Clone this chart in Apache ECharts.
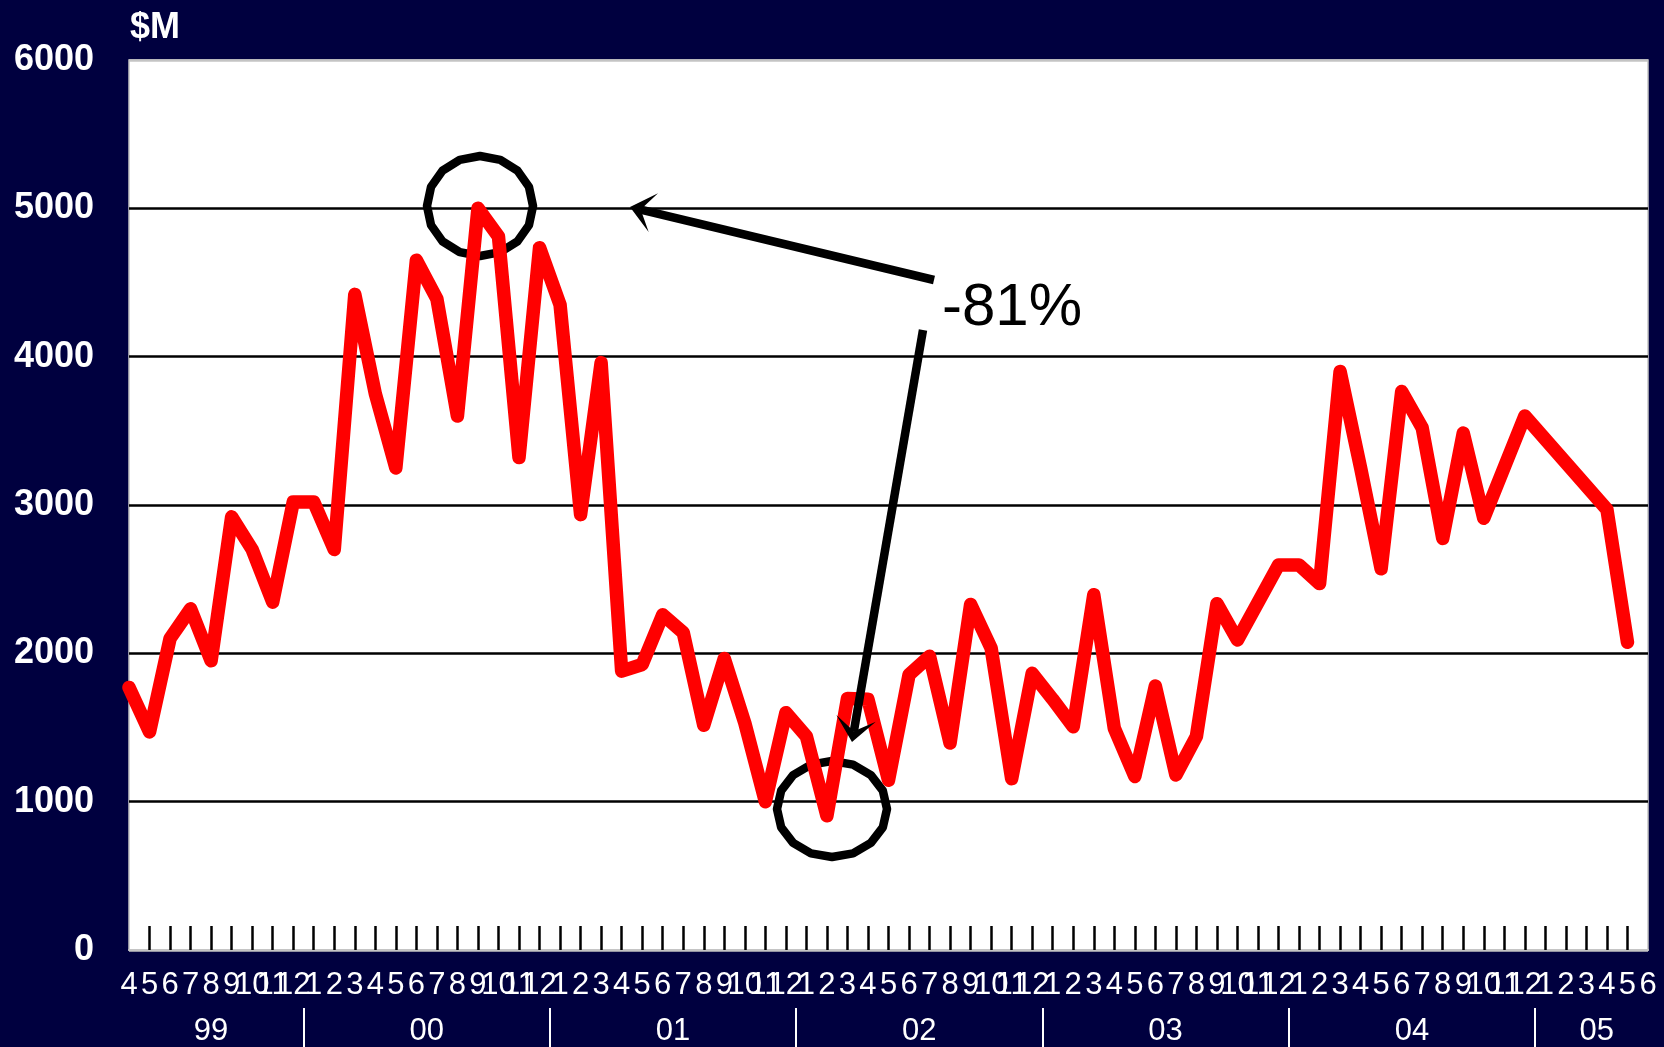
<!DOCTYPE html>
<html>
<head>
<meta charset="utf-8">
<title>$M</title>
<script src="https://cdn.jsdelivr.net/npm/echarts@6/dist/echarts.min.js"></script>
<style>
  html, body { margin: 0; padding: 0; background: #00003f; }
  #chart { width: 1664px; height: 1047px; }
</style>
</head>
<body>
<div id="chart"></div>
<script>
// month labels, Apr 99 .. Jun 05
var months = [
  '4','5','6','7','8','9','10','11','12',
  '1','2','3','4','5','6','7','8','9','10','11','12',
  '1','2','3','4','5','6','7','8','9','10','11','12',
  '1','2','3','4','5','6','7','8','9','10','11','12',
  '1','2','3','4','5','6','7','8','9','10','11','12',
  '1','2','3','4','5','6','7','8','9','10','11','12',
  '1','2','3','4','5','6'
];
var yearLabels = ['99', '00', '01', '02', '03', '04', '05'];
var yearLengths = [9, 12, 12, 12, 12, 12, 6];

// $M per month (null = no point, line is joined straight across)
var values = [
  1770, 1470, 2100, 2300, 1950, 2920, 2700, 2345, 3020, 3020,
  2700, 4420, 3750, 3250, 4650, 4390, 3600, 5000, 4810, 3320,
  4735, 4350, 2935, 3960, 1880, 1925, 2260, 2140, 1515, 1965,
  1530, 1000, 1600, 1440, 905, 1695, 1690, 1145, 1855, 1980,
  1395, 2330, 2035, 1155, 1865, 1690, 1505, 2395, 1495, 1170,
  1780, 1180, 1440, 2335, 2090, null, 2595, 2595, 2470, 3900,
  3250, 2570, 3765, 3520, 2775, 3485, 2910, null, 3600, null,
  null, null, 2970, 2075, null
];

var yTicks = [0, 1000, 2000, 3000, 4000, 5000, 6000];
var changeLabel = '-81%';

// year bands: separators between years, labels at band middles
var yearBreaks = [], yearMids = [], start = 0;
for (var k = 0; k < yearLengths.length; k++) {
  var end = start + yearLengths[k] - 1;
  yearMids.push((start + end) / 2);
  if (k < yearLengths.length - 1) yearBreaks.push(end + 0.5);
  start = end + 1;
}

var font = '"Liberation Sans", Arial, sans-serif';

function ring(cx, cy, rx, ry) {
  var pts = [];
  for (var i = 0; i < 16; i++) {
    var a = -Math.PI / 2 + i * Math.PI / 8;
    pts.push([cx + rx * Math.cos(a), cy + ry * Math.sin(a)]);
  }
  return {
    type: 'polygon', z: 1,
    shape: { points: pts },
    style: { fill: 'none', stroke: '#000', lineWidth: 8.5, lineJoin: 'round' }
  };
}

function arrow(x1, y1, x2, y2) {
  var dx = x2 - x1, dy = y2 - y1, len = Math.sqrt(dx * dx + dy * dy);
  var ux = dx / len, uy = dy / len, nx = -uy, ny = ux;
  var L = 24, W = 20, N = 11;
  var notch = [x2 - ux * N, y2 - uy * N];
  return [
    {
      type: 'line', z: 10,
      shape: { x1: x1, y1: y1, x2: notch[0], y2: notch[1] },
      style: { stroke: '#000', lineWidth: 8.5 }
    },
    {
      type: 'polygon', z: 10,
      shape: { points: [[x2, y2], [x2 - ux * L + nx * W, y2 - uy * L + ny * W], notch,
                        [x2 - ux * L - nx * W, y2 - uy * L - ny * W]] },
      style: { fill: '#000' }
    }
  ];
}

var chart = echarts.init(document.getElementById('chart'));

var graphics = [
  {
    type: 'text', left: 130, top: 10,
    style: { text: '$M', fill: '#fff', font: 'bold 36px ' + font }
  },
  ring(480, 206, 53, 50),
  ring(832, 809, 55, 48),
  {
    type: 'text', x: 942, y: 308, z: 10,
    style: { text: changeLabel, fill: '#000', font: '60px ' + font, verticalAlign: 'middle' }
  }
].concat(arrow(934, 280, 630, 207)).concat(arrow(923, 330, 852, 742));

var option = {
  backgroundColor: '#00003f',
  animation: false,
  grid: {
    left: 129, right: 16, top: 60, bottom: 97,
    show: true, backgroundColor: '#fff', borderColor: '#c4c4c4', borderWidth: 1.5
  },
  xAxis: [
    {
      type: 'category',
      data: months,
      boundaryGap: false,
      axisLine: { show: true, lineStyle: { color: '#c4c4c4', width: 2 } },
      axisTick: {
        show: true, inside: true, length: 24,
        interval: function (i) { return i > 0 && i < months.length - 1; },
        lineStyle: { color: '#000', width: 2.5 }
      },
      axisLabel: {
        interval: 0, margin: 20, color: '#fff',
        fontSize: 31, fontFamily: font
      },
      splitLine: { show: false }
    },
    {
      type: 'value',
      min: 0, max: months.length - 1,
      position: 'bottom', offset: 58,
      axisLine: { show: false },
      axisTick: {
        show: true, length: 45, customValues: yearBreaks,
        lineStyle: { color: '#fff', width: 2 }
      },
      axisLabel: {
        customValues: yearMids, margin: 8, color: '#fff',
        fontSize: 31, fontFamily: font,
        formatter: function (v) {
          var idx = yearMids.indexOf(v);
          return idx >= 0 ? yearLabels[idx] : '';
        }
      },
      splitLine: { show: false }
    }
  ],
  yAxis: {
    type: 'value',
    min: yTicks[0], max: yTicks[yTicks.length - 1], interval: 1000,
    axisLine: { show: false },
    axisTick: { show: false },
    axisLabel: {
      margin: 35, color: '#fff', fontSize: 36, fontWeight: 'bold', fontFamily: font,
      formatter: function (v) { return String(v); }
    },
    splitLine: {
      lineStyle: {
        color: ['#c4c4c4', '#000', '#000', '#000', '#000', '#000', '#c4c4c4'],
        width: 2.5
      }
    }
  },
  graphic: graphics,
  series: [
    {
      type: 'line',
      xAxisIndex: 0,
      data: values,
      connectNulls: true,
      symbol: 'none',
      clip: true,
      lineStyle: { color: '#ff0000', width: 13.5, cap: 'round', join: 'round' },
      z: 2
    }
  ]
};

chart.setOption(option);
</script>
</body>
</html>
